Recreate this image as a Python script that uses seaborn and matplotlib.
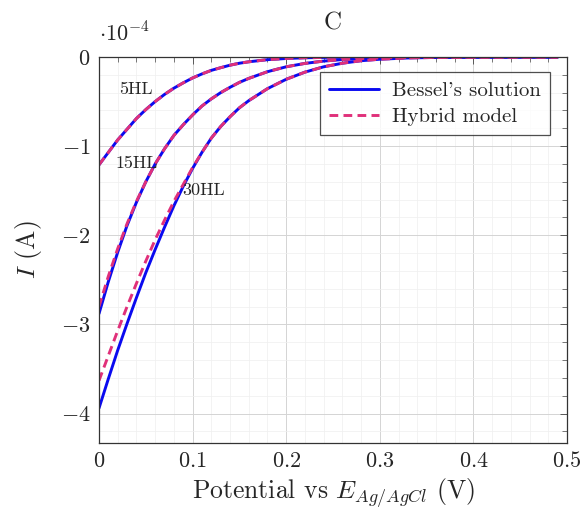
import numpy as np
import pandas as pd
import matplotlib
matplotlib.use("Agg")
import matplotlib.pyplot as plt
from matplotlib.ticker import MultipleLocator, FuncFormatter
import seaborn as sns

# ------------------------------------------------------------------
# data (current in units of 1e-4 A)
# ------------------------------------------------------------------
potential = [0.00, 0.01, 0.02, 0.03, 0.04, 0.05, 0.06, 0.07, 0.08, 0.09,
             0.10, 0.11, 0.12, 0.13, 0.14, 0.15, 0.16, 0.18, 0.20, 0.22,
             0.24, 0.26, 0.28, 0.30, 0.33, 0.36, 0.40, 0.45, 0.49]

bessel_5hl = [-1.21, -1.07, -0.93, -0.81, -0.69, -0.59, -0.50, -0.42, -0.35, -0.29,
              -0.235, -0.19, -0.15, -0.12, -0.092, -0.07, -0.054, -0.03, -0.017, -0.009,
              -0.005, -0.003, -0.0015, -0.001, -0.0005, -0.0002, -0.0001, 0.0, 0.0]
hybrid_5hl = [-1.21, -1.07, -0.93, -0.81, -0.69, -0.59, -0.50, -0.42, -0.35, -0.29,
              -0.235, -0.19, -0.15, -0.12, -0.092, -0.07, -0.054, -0.03, -0.017, -0.009,
              -0.005, -0.003, -0.0015, -0.001, -0.0005, -0.0002, -0.0001, 0.0, 0.0]

bessel_15hl = [-2.88, -2.52, -2.19, -1.89, -1.63, -1.40, -1.20, -1.03, -0.88, -0.76,
               -0.65, -0.55, -0.47, -0.40, -0.34, -0.285, -0.24, -0.165, -0.11, -0.072,
               -0.046, -0.029, -0.018, -0.011, -0.005, -0.002, -0.001, -0.0003, 0.0]
hybrid_15hl = [-2.80, -2.46, -2.15, -1.87, -1.62, -1.40, -1.20, -1.03, -0.88, -0.76,
               -0.65, -0.55, -0.47, -0.40, -0.34, -0.285, -0.24, -0.165, -0.11, -0.072,
               -0.046, -0.029, -0.018, -0.011, -0.005, -0.002, -0.001, -0.0003, 0.0]

bessel_30hl = [-3.94, -3.61, -3.29, -2.99, -2.70, -2.42, -2.16, -1.91, -1.67, -1.45,
               -1.25, -1.07, -0.91, -0.78, -0.67, -0.57, -0.49, -0.355, -0.25, -0.17,
               -0.11, -0.07, -0.042, -0.025, -0.011, -0.005, -0.002, -0.0006, -0.0002]
hybrid_30hl = [-3.63, -3.35, -3.07, -2.80, -2.54, -2.29, -2.05, -1.83, -1.62, -1.43,
               -1.24, -1.07, -0.91, -0.78, -0.67, -0.57, -0.49, -0.355, -0.25, -0.17,
               -0.11, -0.07, -0.042, -0.025, -0.011, -0.005, -0.002, -0.0006, -0.0002]

model_names = ["Bessel's solution", "Hybrid model"]
case_labels = ["5HL", "15HL", "30HL"]
label_pos = [(0.039, -0.36), (0.040, -1.19), (0.112, -1.50)]

# ------------------------------------------------------------------
# build long table
# ------------------------------------------------------------------
series = {
    ("5HL", model_names[0]): bessel_5hl, ("5HL", model_names[1]): hybrid_5hl,
    ("15HL", model_names[0]): bessel_15hl, ("15HL", model_names[1]): hybrid_15hl,
    ("30HL", model_names[0]): bessel_30hl, ("30HL", model_names[1]): hybrid_30hl,
}
rows = []
for model in model_names:
    for case in case_labels:
        for e, i in zip(potential, series[(case, model)]):
            rows.append({"E": e, "I": i, "case": case, "model": model})
df = pd.DataFrame(rows)

# ------------------------------------------------------------------
# style
# ------------------------------------------------------------------
sns.set_theme(style="white")
plt.rcParams.update({
    "font.family": "serif", "font.serif": ["cmr10", "DejaVu Serif"],
    "mathtext.fontset": "cm", "axes.formatter.use_mathtext": True,
    "axes.unicode_minus": True,
    "xtick.direction": "in", "ytick.direction": "in",
    "xtick.top": True, "ytick.right": True,
})

fig = plt.figure(figsize=(5.84, 5.12), dpi=100)
ax = fig.add_axes([0.1695, 0.1348, 0.8015, 0.7539])

sns.lineplot(data=df, x="E", y="I", hue="model", style="model", units="case",
             estimator=None, sort=False, ax=ax,
             palette={model_names[0]: "#0a0af0", model_names[1]: "#e0307a"},
             dashes={model_names[0]: "", model_names[1]: (3, 1.8)},
             linewidth=2.1)

ax.set_xlim(0, 0.5)
ax.set_ylim(-4.33, 0)
ax.xaxis.set_major_locator(MultipleLocator(0.1))
ax.xaxis.set_minor_locator(MultipleLocator(0.02))
ax.yaxis.set_major_locator(MultipleLocator(1))
ax.yaxis.set_minor_locator(MultipleLocator(0.2))
fmt = FuncFormatter(lambda v, p: r"$%g$" % round(v, 3) if abs(v) > 1e-9 else r"$0$")
ax.xaxis.set_major_formatter(fmt)
ax.yaxis.set_major_formatter(fmt)
ax.tick_params(which="major", length=5, width=0.6, labelsize=16, color="#444444", pad=6)
ax.tick_params(which="minor", length=3.5, width=0.5, color="#444444")
ax.grid(which="major", color="#d4d4d4", linewidth=0.7)
ax.grid(which="minor", color="#efefef", linewidth=0.5)
ax.set_axisbelow(True)
for s in ax.spines.values():
    s.set_color("#333333")
    s.set_linewidth(0.9)

ax.set_xlabel(r"Potential vs $E_{Ag/AgCl}$ (V)", fontsize=18.5, labelpad=4)
ax.set_ylabel(r"$I$ (A)", fontsize=18.5, labelpad=12)
ax.set_title("C", fontsize=18, pad=20)
ax.text(0.0, 1.03, r"$\cdot 10^{-4}$", transform=ax.transAxes, fontsize=16,
        ha="left", va="bottom")

for lab, (px, py) in zip(case_labels, label_pos):
    ax.text(px, py, lab, fontsize=13, ha="center", va="center")

handles, labels = ax.get_legend_handles_labels()
leg = ax.legend(handles, labels, loc="upper right", bbox_to_anchor=(0.972, 0.972),
                fontsize=15, frameon=True, fancybox=False, edgecolor="#222222",
                handlelength=2.4, borderpad=0.45, labelspacing=0.35,
                handletextpad=0.6, borderaxespad=0.2)
leg.get_frame().set_linewidth(0.9)

fig.savefig("out.png", dpi=100)
